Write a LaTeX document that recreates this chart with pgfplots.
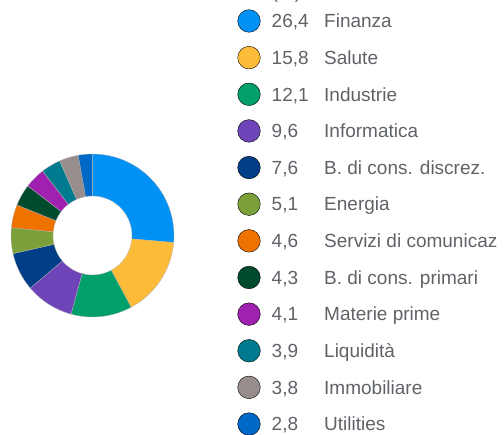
\documentclass[border=0pt]{standalone}
\usepackage{pgfplots}
\pgfplotsset{compat=1.18}
\usepackage{fontspec}
\setmainfont{Liberation Sans}
\usetikzlibrary{calc}
\definecolor{cFin}{HTML}{0091F5}
\definecolor{cSal}{HTML}{FDBB3A}
\definecolor{cInd}{HTML}{009F6B}
\definecolor{cInf}{HTML}{6E44B8}
\definecolor{cBdi}{HTML}{003F87}
\definecolor{cEne}{HTML}{7BA03A}
\definecolor{cSer}{HTML}{EE7200}
\definecolor{cBpr}{HTML}{004B2D}
\definecolor{cMat}{HTML}{A020B0}
\definecolor{cLiq}{HTML}{007A8F}
\definecolor{cImm}{HTML}{978D8D}
\definecolor{cUti}{HTML}{0068C6}
\definecolor{txt}{HTML}{5F6368}
% donut slice: cumulative start, cumulative end (percent), colour
\newcommand\slice[3]{%
\filldraw[fill=#3, draw=black!30, line width=0.3pt]
 ($(axis cs:92.5,199.5)+({90-3.6*#1/1.001}:81.5pt)$)
 arc[start angle={90-3.6*#1/1.001}, end angle={90-3.6*#2/1.001}, radius=81.5pt]
 -- ($(axis cs:92.5,199.5)+({90-3.6*#2/1.001}:39.5pt)$)
 arc[start angle={90-3.6*#2/1.001}, end angle={90-3.6*#1/1.001}, radius=39.5pt]
 -- cycle;}
% legend row: index, colour, value, name
\newcommand\legrow[4]{%
\addplot[only marks, mark=*, mark size=11.3pt, mark options={draw=none, fill=#2}] coordinates {(249,{414-36.64*#1})};
\node[anchor=base west, inner sep=0pt, text=txt] at (axis cs:271.5,{407.2-36.64*#1}) {#3};
\node[anchor=base west, inner sep=0pt, text=txt] at (axis cs:324,{407.2-36.64*#1}) {#4};}
\begin{document}
\fontsize{19}{22}\selectfont
\begin{tikzpicture}
\useasboundingbox (0,0) rectangle (504pt,435pt);
\clip (0,0) rectangle (504pt,435pt);
\begin{axis}[
  at={(0,0)}, anchor=south west,
  x=1pt, y=1pt,
  xmin=0, xmax=504, ymin=0, ymax=435,
  hide axis, clip=false,
]
\slice{0}{26.4}{cFin}
\slice{26.4}{42.2}{cSal}
\slice{42.2}{54.3}{cInd}
\slice{54.3}{63.9}{cInf}
\slice{63.9}{71.5}{cBdi}
\slice{71.5}{76.6}{cEne}
\slice{76.6}{81.2}{cSer}
\slice{81.2}{85.5}{cBpr}
\slice{85.5}{89.6}{cMat}
\slice{89.6}{93.5}{cLiq}
\slice{93.5}{97.3}{cImm}
\slice{97.3}{100.1}{cUti}
\legrow{0}{cFin}{26,4}{Finanza}
\legrow{1}{cSal}{15,8}{Salute}
\legrow{2}{cInd}{12,1}{Industrie}
\legrow{3}{cInf}{9,6}{Informatica}
\legrow{4}{cBdi}{7,6}{B. di cons. discrez.}
\legrow{5}{cEne}{5,1}{Energia}
\legrow{6}{cSer}{4,6}{Servizi di comunicaz}
\legrow{7}{cBpr}{4,3}{B. di cons. primari}
\legrow{8}{cMat}{4,1}{Materie prime}
\legrow{9}{cLiq}{3,9}{Liquidità}
\legrow{10}{cImm}{3,8}{Immobiliare}
\legrow{11}{cUti}{2,8}{Utilities}
\node[anchor=base west, inner sep=0pt, text=txt] at (axis cs:271.5,436.5) {(\%)};
\end{axis}
\end{tikzpicture}
\end{document}
